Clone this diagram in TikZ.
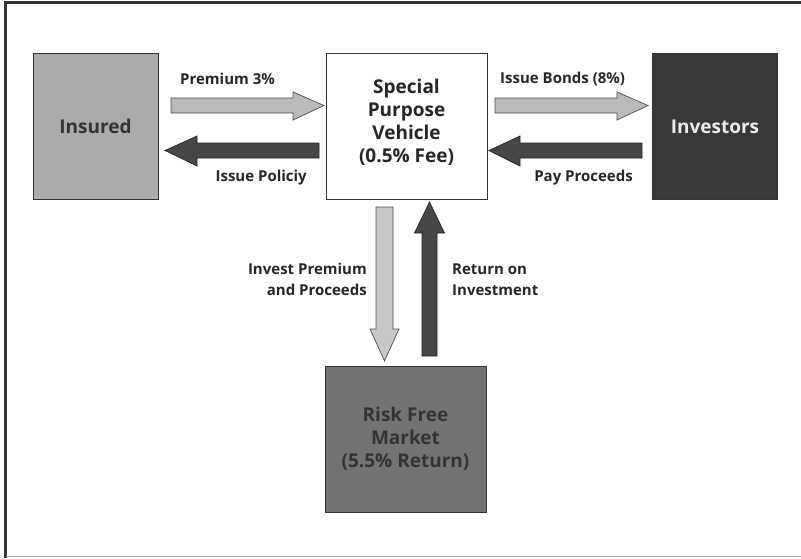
\documentclass[tikz,border=0pt]{standalone}
\usepackage{fontspec}
\setmainfont{Open Sans}
\begin{document}
\begin{tikzpicture}[x=1pt,y=-1pt,
  boxst/.style={draw=black!80,line width=0.9pt,minimum width=125pt,minimum height=146pt,align=center,font=\bfseries\fontsize{19}{23}\selectfont},
  boxtxt/.style={align=center,font=\bfseries\fontsize{19}{23}\selectfont},
  lbl/.style={font=\bfseries\fontsize{15}{21}\selectfont,text=black!85,inner sep=0pt},
  lightarr/.style={fill=black!27,draw=black!70,line width=0.7pt},
  darkarr/.style={fill=black!72,draw=black!85,line width=0.7pt}]
\useasboundingbox (0,0) rectangle (801,558);
% frame
\draw[black!80,line width=2.5pt] (5.5,558) -- (5.5,2.5) -- (801,2.5);
\draw[black!35,line width=1pt] (5.5,556.5) -- (801,556.5);
% boxes
\node[boxst,fill=black!33,text=black!80] (ins) at (95.5,126) {Insured};
\node[boxst,fill=white,minimum width=161pt] (spv) at (406.5,126) {};
\node[boxtxt,text=black!85] (spvt) at (406.5,122) {Special\\Purpose\\Vehicle\\(0.5\% Fee)};
\node[boxst,fill=black!78,text=white!92!black] (inv) at (715,126.5) {Investors};
\node[boxst,fill=black!55,minimum width=161pt,text=black!80] (rf) at (405.5,439) {Risk Free\\Market\\(5.5\% Return)};
% arrows (horizontal)
\draw[lightarr] (171,98) -- (293,98) -- (293,92) -- (324,105.5) -- (293,120) -- (293,113) -- (171,113) -- cycle;
\draw[darkarr] (319,143) -- (197,143) -- (197,136) -- (165,150.5) -- (197,166) -- (197,158) -- (319,158) -- cycle;
\draw[lightarr] (495,98) -- (617,98) -- (617,92) -- (648,105.5) -- (617,120) -- (617,113) -- (495,113) -- cycle;
\draw[darkarr] (642,143) -- (520,143) -- (520,136) -- (489,150.5) -- (520,166) -- (520,158) -- (642,158) -- cycle;
% vertical
\draw[lightarr,fill=black!22] (376,207) -- (376,329) -- (370,329) -- (384.5,361) -- (399,329) -- (393,329) -- (393,207) -- cycle;
\draw[darkarr] (422,356) -- (422,233) -- (414.5,233) -- (429.5,202) -- (444.5,233) -- (437,233) -- (437,356) -- cycle;
% labels
\node[lbl,anchor=west] (l1) at (180,79) {Premium 3\%};
\node[lbl,anchor=east] (l2) at (307,178) {Issue Policiy};
\node[lbl,anchor=west] (l3) at (500,79) {Issue Bonds (8\%)};
\node[lbl,anchor=east] (l4) at (633,178) {Pay Proceeds};
\node[lbl,anchor=east,align=right] (l5) at (367,279.5) {Invest Premium\\and Proceeds};
\node[lbl,anchor=west,align=left] (l6) at (452,279.5) {Return on\\Investment};
\end{tikzpicture}
\end{document}
